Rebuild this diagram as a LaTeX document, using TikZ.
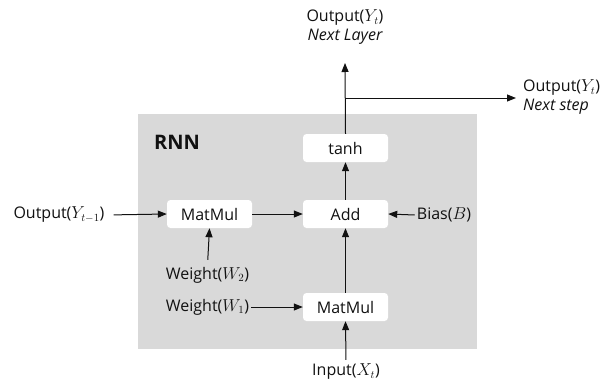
\documentclass[tikz,border=0pt]{standalone}
\usepackage{fontspec}
\setmainfont{Open Sans}
\usetikzlibrary{arrows.meta}
\definecolor{panel}{HTML}{D9D9D9}
\definecolor{ink}{HTML}{111111}
\tikzset{
  opbox/.style={fill=white, rounded corners=3.5pt, minimum width=85pt, minimum height=28pt, inner sep=0pt, font=\fontsize{16}{18}\selectfont, text=ink},
  lbl/.style={inner sep=2pt, font=\fontsize{16}{19}\selectfont, text=ink},
  flow/.style={draw=ink, line width=1pt, -{Triangle[length=9pt,width=7pt]}},
}
\begin{document}
\begin{tikzpicture}[x=1pt, y=-1pt]
  \useasboundingbox (0,0) rectangle (613,383);
  % cell background
  \fill[panel] (138,114) rectangle (477,349);
  \node[font=\fontsize{20}{22}\selectfont\bfseries, text=ink] (rnn) at (177,142) {RNN};

  % operation boxes
  \node[opbox] (tanh) at (345.5,148) {tanh};
  \node[opbox] (add)  at (345.5,214) {Add};
  \node[opbox] (mmh)  at (209.5,214) {MatMul};
  \node[opbox] (mmx)  at (345.5,307) {MatMul};

  % inputs and outputs
  \node[lbl] (yprev) at (59,215) {Output($Y_{t-1}$)};
  \node[lbl] (w2)    at (207.5,275) {Weight($W_2$)};
  \node[lbl] (w1)    at (207.5,307) {Weight($W_1$)};
  \node[lbl] (bias)  at (444,215) {Bias($B$)};
  \node[lbl] (xin)   at (346,372) {Input($X_t$)};
  \node[lbl, align=center] (ylayer) at (345,27) {Output($Y_t$)\\\itshape Next Layer};
  \node[lbl, align=left, anchor=west] (ystep) at (521,97) {Output($Y_t$)\\\itshape Next step};

  \coordinate (uptip) at (345,63);
  \coordinate (split) at (345,98);
  \coordinate (righttip) at (516,98);

  % connectors
  \draw[flow, shorten <=7pt] (yprev.east) -- (mmh.west);
  \draw[flow] (mmh.east) -- (add.west);
  \draw[flow, shorten <=5pt] (w2.north) -- (mmh.south);
  \draw[flow] (w1.east) -- (mmx.west);
  \draw[flow] (bias.west) -- (add.east);
  \draw[flow, shorten <=2pt] (xin.north) -- (mmx.south);
  \draw[flow] (mmx.north) -- (add.south);
  \draw[flow] (add.north) -- (tanh.south);
  \draw[flow] (tanh.north) -- (uptip);
  \draw[flow] (split) -- (righttip);
\end{tikzpicture}
\end{document}
